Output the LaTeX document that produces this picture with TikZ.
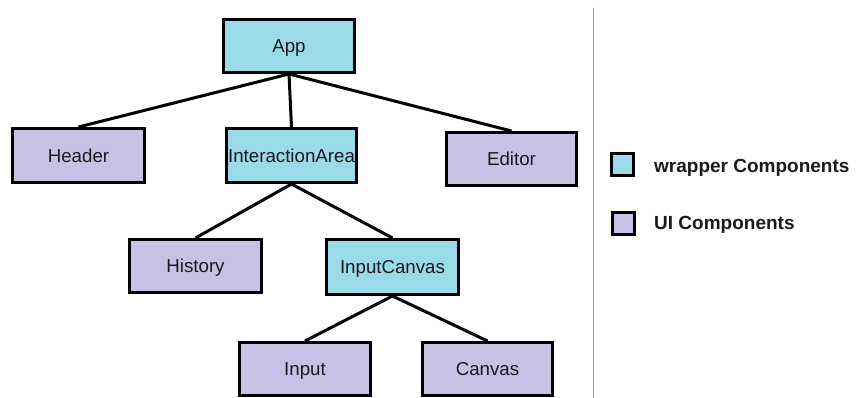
\documentclass[tikz,border=0pt]{standalone}
\usepackage{fontspec}
\setmainfont{Liberation Sans}
\definecolor{wrapc}{HTML}{9BDAE9}
\definecolor{uic}{HTML}{C8C0E5}
\definecolor{txt}{HTML}{1A1A1A}
\begin{document}
\begin{tikzpicture}[x=1pt,y=-1pt,
  box/.style={draw=black,line width=3pt,inner sep=0pt,minimum width=131pt,minimum height=53pt,font=\fontsize{18.7}{20}\selectfont,text=txt,text depth=0pt},
  wrap/.style={box,fill=wrapc},
  ui/.style={box,fill=uic},
  conn/.style={line width=3pt,black},
  legbox/.style={draw=black,line width=3pt,minimum size=22pt,inner sep=0pt},
  legtxt/.style={anchor=west,font=\bfseries\fontsize{19}{20}\selectfont,text=txt,inner sep=0pt,text depth=0pt}]
\useasboundingbox (0,0) rectangle (856,398);
\node[wrap] (app) at (289,46) {App};
\node[ui,minimum width=132pt,minimum height=54pt] (header) at (78.5,155.5) {Header};
\node[wrap,minimum width=130pt,minimum height=54pt] (ia) at (291.5,155.5) {InteractionArea};
\node[ui,minimum width=130pt] (editor) at (511.5,159) {Editor};
\node[ui,minimum width=132pt] (history) at (195.5,266) {History};
\node[wrap,minimum width=132pt,minimum height=55pt] (ic) at (392.5,267) {InputCanvas};
\node[ui] (input) at (305,369) {Input};
\node[ui,minimum width=130pt] (canvas) at (487.5,369) {Canvas};
\draw[conn] (app.south) -- (header.north);
\draw[conn] (app.south) -- (ia.north);
\draw[conn] (app.south) -- (editor.north);
\draw[conn] (ia.south) -- (history.north);
\draw[conn] (ia.south) -- (ic.north);
\draw[conn] (ic.south) -- (input.north);
\draw[conn] (ic.south) -- (canvas.north);
\coordinate (dtop) at (593,8);
\coordinate (dbot) at (593,398);
\draw[line width=1pt,gray!80] (dtop) -- (dbot);
\node[legbox,fill=wrapc] (lw) at (622,165) {};
\node[legtxt] (lwt) at (654,166) {wrapper Components};
\node[legbox,fill=uic] (lu) at (623,223) {};
\node[legtxt] (lut) at (654,223) {UI Components};
\end{tikzpicture}
\end{document}
